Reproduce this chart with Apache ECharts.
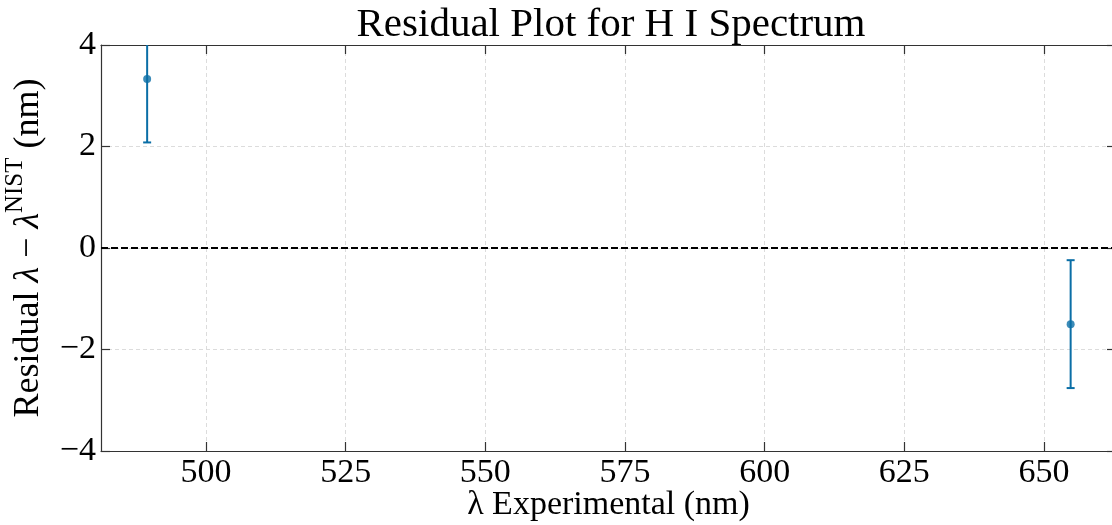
<!DOCTYPE html>
<html>
<head>
<meta charset="utf-8">
<script src="https://cdn.jsdelivr.net/npm/echarts@6/dist/echarts.min.js"></script>
<style>
  html, body { margin: 0; padding: 0; background: #fff; }
  #chart { width: 1112px; height: 525px; }
</style>
</head>
<body>
<div id="chart"></div>
<script>
// H I lines: measured wavelength (nm), residual vs NIST (nm) and its uncertainty
const wavelengths = [489.46, 654.78];
const residuals = [3.33, -1.50];
const errors = [1.25, 1.26];
const xTicks = [500, 525, 550, 575, 600, 625, 650];
const yTicks = [-4, -2, 0, 2, 4];

const FONT = '"Liberation Serif", "DejaVu Serif", serif';
const BLUE = '#0a6ea6';
const X_MIN = 481.2, X_MAX = 662.9;

const fmtNum = v => (v < 0 ? '\u2212' + Math.abs(v) : String(v));

const points = wavelengths.map((x, i) => [x, residuals[i], errors[i]]);

const chart = echarts.init(document.getElementById('chart'), null, { renderer: 'canvas' });

const baseX = {
  type: 'value', min: X_MIN, max: X_MAX,
  axisLine: { show: true, onZero: false, lineStyle: { color: '#333', width: 1.2 } },
  axisTick: { show: true, inside: true, length: 9, customValues: xTicks, lineStyle: { color: '#333', width: 1.2 } },
  splitLine: { show: false }
};
const baseY = {
  type: 'value', min: -4, max: 4, interval: 2,
  axisLine: { show: true, onZero: false, lineStyle: { color: '#333', width: 1.2 } },
  axisTick: { show: true, inside: true, length: 9, customValues: yTicks, lineStyle: { color: '#333', width: 1.2 } },
  splitLine: { show: false }
};

chart.setOption({
  animation: false,
  title: {
    text: 'Residual Plot for H I Spectrum',
    left: 606, top: 0, textAlign: 'center',
    textStyle: { fontFamily: FONT, fontSize: 41, fontWeight: 'normal', color: '#000' }
  },
  grid: { left: 101, right: -4, top: 45, bottom: 74, containLabel: false, outerBoundsMode: 'none' },
  xAxis: [
    Object.assign({}, baseX, {
      position: 'bottom',
      axisLabel: { show: true, customValues: xTicks, margin: 5, fontFamily: FONT, fontSize: 34, color: '#000', formatter: fmtNum },
      splitLine: { show: true, lineStyle: { color: '#dcdcdc', width: 1, type: [4, 3] } },
      name: '\u03bb Experimental (nm)',
      nameLocation: 'middle', nameGap: 37, nameMoveOverlap: false,
      nameTextStyle: { fontFamily: FONT, fontSize: 34, color: '#000' }
    }),
    Object.assign({}, baseX, { position: 'top', axisLabel: { show: false } })
  ],
  yAxis: [
    Object.assign({}, baseY, {
      position: 'left',
      axisLabel: { show: true, customValues: yTicks, margin: 5, fontFamily: FONT, fontSize: 34, color: '#000', formatter: fmtNum },
      splitLine: { show: true, lineStyle: { color: '#dcdcdc', width: 1, type: [4, 3] } },
      name: '{n|Residual }{i|\u03bb}{n| \u2212 }{i|\u03bb}{s|NIST}{n| (nm)}',
      nameLocation: 'middle', nameGap: 54, nameRotate: 90, nameMoveOverlap: false,
      nameTextStyle: {
        fontFamily: FONT, color: '#000',
        rich: {
          n: { fontFamily: FONT, fontSize: 36, color: '#000', lineHeight: 44, verticalAlign: 'bottom' },
          i: { fontFamily: FONT, fontSize: 36, fontStyle: 'italic', color: '#000', lineHeight: 44, verticalAlign: 'bottom' },
          s: { fontFamily: FONT, fontSize: 25, color: '#000', lineHeight: 44, verticalAlign: 'top' }
        }
      }
    }),
    Object.assign({}, baseY, { position: 'right', axisLabel: { show: false } })
  ],
  series: [
    {
      type: 'line',
      data: [[X_MIN, 0], [X_MAX, 0]],
      symbol: 'none',
      lineStyle: { color: '#000', width: 1.8, type: [7, 3] },
      silent: true, z: 3
    },
    {
      type: 'custom',
      clip: true,
      data: points,
      encode: { x: 0, y: 1 },
      renderItem: function (params, api) {
        const x = api.value(0), y = api.value(1), e = api.value(2);
        const lo = api.coord([x, y - e]);
        const hi = api.coord([x, y + e]);
        const cap = 4;
        const style = { stroke: BLUE, lineWidth: 2 };
        return {
          type: 'group',
          children: [
            { type: 'line', shape: { x1: lo[0], y1: lo[1], x2: hi[0], y2: hi[1] }, style: style },
            { type: 'line', shape: { x1: lo[0] - cap, y1: lo[1], x2: lo[0] + cap, y2: lo[1] }, style: style },
            { type: 'line', shape: { x1: hi[0] - cap, y1: hi[1], x2: hi[0] + cap, y2: hi[1] }, style: style }
          ]
        };
      },
      z: 4
    },
    {
      type: 'scatter',
      data: points.map(p => [p[0], p[1]]),
      symbol: 'circle', symbolSize: 8,
      itemStyle: { color: BLUE },
      z: 5
    }
  ]
});
</script>
</body>
</html>
